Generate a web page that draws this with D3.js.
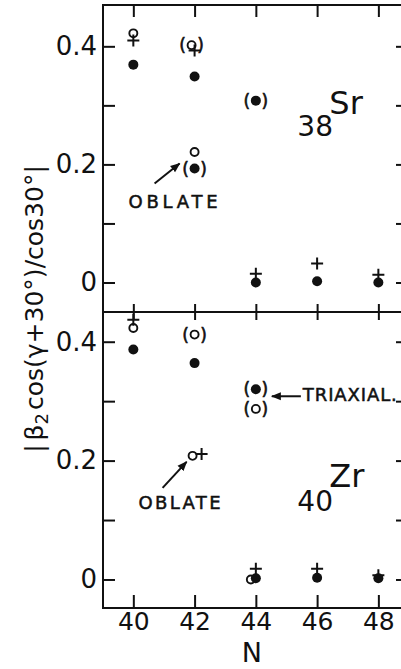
<!DOCTYPE html>
<html><head><meta charset="utf-8">
<script src="https://cdn.jsdelivr.net/npm/d3@7"></script>
<style>
html,body{margin:0;padding:0;background:#fff;overflow:hidden}
svg{display:block}
text{font-family:"DejaVu Sans",sans-serif;fill:#111}
</style></head><body><svg id="c" width="401" height="669"></svg>
<script>
// Neutron number axis and deformation axis ticks
const neutronTicks = [40, 42, 44, 46, 48];
const yTickValues = [0, 0.1, 0.2, 0.3, 0.4];
const yTickLabels = ["0", "", "0.2", "", "0.4"];

// Sr isotopes (Z = 38): filled = calculated minima, open = alternative, plus = experiment
const srDotN = [40, 42, 42, 44, 44, 46, 48];
const srDotV = [0.369, 0.349, 0.193, 0.308, 0.000, 0.002, 0.000];
const srDotParen = [0, 0, 1, 1, 0, 0, 0];
const srOpenN = [40, 42, 42];
const srOpenV = [0.422, 0.402, 0.221];
const srOpenParen = [0, 1, 0];
const srPlusN = [40, 42, 44, 46, 48];
const srPlusV = [0.410, 0.393, 0.015, 0.032, 0.013];

// Zr isotopes (Z = 40)
const zrDotN = [40, 42, 44, 44, 46, 48];
const zrDotV = [0.387, 0.364, 0.320, 0.002, 0.003, 0.002];
const zrDotParen = [0, 0, 1, 0, 0, 0];
const zrOpenN = [40, 42, 44, 42, 44];
const zrOpenV = [0.423, 0.412, 0.287, 0.208, 0.000];
const zrOpenParen = [0, 1, 1, 0, 0];
const zrPlusN = [40, 42, 44, 46, 48];
const zrPlusV = [0.437, 0.211, 0.018, 0.018, 0.007];

const svg = d3.select("#c");
const left = 103, right = 409;
const x = d3.scaleLinear().domain([39, 49]).range([left - 0.3, right]);

const panels = [
  { top: 5, bottom: 312, domain: [-0.05, 0.47], sym: "Sr", z: "38",
    dots: [srDotN, srDotV, srDotParen], open: [srOpenN, srOpenV, srOpenParen], plus: [srPlusN, srPlusV], key: "sr" },
  { top: 312, bottom: 608, domain: [-0.048, 0.45], sym: "Zr", z: "40",
    dots: [zrDotN, zrDotV, zrDotParen], open: [zrOpenN, zrOpenV, zrOpenParen], plus: [zrPlusN, zrPlusV], key: "zr" }
];

// small horizontal displacements so overlapping symbols stay visible
const nudges = { "srOpen-1": -3, "zrOpen-3": -2, "zrPlus-1": 7, "zrOpen-4": -5 };
const nudge = (k) => nudges[k] || 0;

const stroke = 2;

panels.forEach((p, pi) => {
  const y = d3.scaleLinear().domain(p.domain).range([p.bottom, p.top]);
  p.y = y;
  const g = svg.append("g");

  // frame
  g.append("rect").attr("x", left).attr("y", p.top)
    .attr("width", right - left).attr("height", p.bottom - p.top)
    .attr("fill", "none").attr("stroke", "#111").attr("stroke-width", stroke);

  // left axis with labels
  const ax = d3.axisLeft(y).tickValues(yTickValues).tickSize(-12).tickPadding(6)
    .tickFormat((d, i) => yTickLabels[i]);
  const gl = g.append("g").attr("transform", `translate(${left},0)`).call(ax);
  gl.select(".domain").remove();
  gl.selectAll("line").attr("stroke", "#111").attr("stroke-width", stroke);
  gl.selectAll("text").attr("font-size", 26).attr("fill", "#111").style("font-family", '"DejaVu Sans",sans-serif');

  // right axis ticks
  const gr = g.append("g").attr("transform", `translate(${right},0)`)
    .call(d3.axisRight(y).tickValues(yTickValues).tickSize(-13).tickFormat(""));
  gr.select(".domain").remove();
  gr.selectAll("line").attr("stroke", "#111").attr("stroke-width", stroke);

  // top ticks
  const gt = g.append("g").attr("transform", `translate(0,${p.top})`)
    .call(d3.axisTop(x).tickValues(neutronTicks).tickSize(pi === 0 ? -12 : -8).tickFormat(""));
  gt.select(".domain").remove();
  gt.selectAll("line").attr("stroke", "#111").attr("stroke-width", stroke);

  // bottom ticks
  const gb = g.append("g").attr("transform", `translate(0,${p.bottom})`)
    .call(d3.axisBottom(x).tickValues(neutronTicks).tickSize(pi === 0 ? -8 : -13).tickPadding(4)
      .tickFormat(pi === 1 ? d3.format("d") : ""));
  gb.select(".domain").remove();
  gb.selectAll("line").attr("stroke", "#111").attr("stroke-width", stroke);
  gb.selectAll("text").attr("font-size", 25).attr("fill", "#111").style("font-family", '"DejaVu Sans",sans-serif');

  const parens = (cx, cy) => {
    g.append("text").attr("x", cx - 9).attr("y", cy).attr("text-anchor", "middle")
      .attr("dominant-baseline", "central").attr("font-size", 17)
      .attr("stroke", "#111").attr("stroke-width", 0.6).text("(");
    g.append("text").attr("x", cx + 9).attr("y", cy).attr("text-anchor", "middle")
      .attr("dominant-baseline", "central").attr("font-size", 17)
      .attr("stroke", "#111").attr("stroke-width", 0.6).text(")");
  };

  // plus symbols (experiment)
  const [pN, pV] = p.plus;
  g.selectAll("path.plus").data(pN.map((n, i) => ({ n, v: pV[i], i }))).join("path")
    .attr("class", "plus")
    .attr("d", d => {
      const cx = x(d.n) + nudge(`${p.key}Plus-${d.i}`), cy = y(d.v);
      return `M${cx - 6},${cy}H${cx + 6}M${cx},${cy - 6}V${cy + 6}`;
    })
    .attr("stroke", "#111").attr("stroke-width", stroke).attr("fill", "none");

  // open circles
  const [oN, oV, oP] = p.open;
  const od = oN.map((n, i) => ({ n, v: oV[i], par: oP[i], i }));
  g.selectAll("circle.open").data(od).join("circle").attr("class", "open")
    .attr("cx", d => x(d.n) + nudge(`${p.key}Open-${d.i}`)).attr("cy", d => y(d.v)).attr("r", 4)
    .attr("fill", "none").attr("stroke", "#111").attr("stroke-width", 1.9);
  od.filter(d => d.par).forEach(d => parens(x(d.n) + nudge(`${p.key}Open-${d.i}`), y(d.v)));

  // filled circles
  const [dN, dV, dP] = p.dots;
  const dd = dN.map((n, i) => ({ n, v: dV[i], par: dP[i], i }));
  g.selectAll("circle.dot").data(dd).join("circle").attr("class", "dot")
    .attr("cx", d => x(d.n)).attr("cy", d => y(d.v)).attr("r", 5).attr("fill", "#111");
  dd.filter(d => d.par).forEach(d => parens(x(d.n), y(d.v)));

  // isotope label
  const lx = x(46.4), ly = y(pi === 0 ? 0.285 : 0.155);
  g.append("text").attr("x", lx).attr("y", ly).attr("font-size", 32).text(p.sym);
  g.append("text").attr("x", lx - 32).attr("y", ly + (pi === 0 ? 22 : 24)).attr("font-size", 28).text(p.z);
});

// annotations
const defs = svg.append("defs");
defs.append("marker").attr("id", "ah").attr("viewBox", "0 0 10 10").attr("refX", 9).attr("refY", 5)
  .attr("markerWidth", 10).attr("markerHeight", 10).attr("markerUnits", "userSpaceOnUse").attr("orient", "auto")
  .append("path").attr("d", "M0,1L10,5L0,9Z").attr("fill", "#111");

function arrow(x1, y1, x2, y2) {
  svg.append("line").attr("x1", x1).attr("y1", y1).attr("x2", x2).attr("y2", y2)
    .attr("stroke", "#111").attr("stroke-width", 2).attr("marker-end", "url(#ah)");
}
function note(txt, x0, yb, len) {
  svg.append("text").attr("x", x0).attr("y", yb).attr("font-size", 18)
    .attr("stroke", "#111").attr("stroke-width", 0.5)
    .attr("textLength", len).attr("lengthAdjust", "spacing").text(txt);
}

const ySr = panels[0].y, yZr = panels[1].y;
// Sr oblate
arrow(x(42) - 40, ySr(0.193) + 15, x(42) - 15, ySr(0.193) - 5);
note("OBLATE", x(42) - 66, ySr(0.193) + 39, 89);
// Zr oblate
arrow(x(42) - 32, yZr(0.208) + 32, x(42) - 8, yZr(0.208) + 6);
note("OBLATE", x(42) - 56, yZr(0.208) + 53, 82);
// Zr triaxial
arrow(x(44) + 45, yZr(0.32) + 7, x(44) + 16, yZr(0.32) + 7);
note("TRIAXIAL.", x(44) + 47, yZr(0.32) + 12, 94);

// y axis title
const yl = svg.append("text").attr("transform", "translate(43,309) rotate(-90)")
  .attr("text-anchor", "middle").attr("font-size", 25);
yl.append("tspan").text("|");
yl.append("tspan").attr("dx", 4).text("β");
yl.append("tspan").attr("font-size", 18).attr("dy", 5).text("2");
yl.append("tspan").attr("dy", -5).attr("dx", 3).text("cos(γ+30°)/cos30°|");

// x axis title
svg.append("text").attr("x", x(44) - 4).attr("y", 662).attr("text-anchor", "middle").attr("font-size", 27).text("N");
</script></body></html>
